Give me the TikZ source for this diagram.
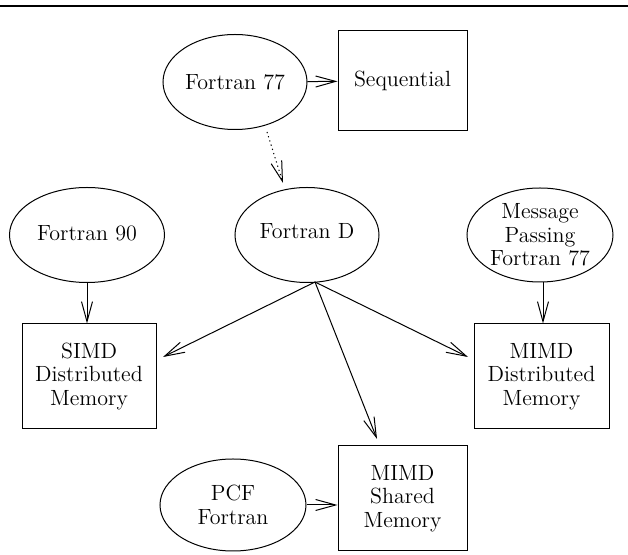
\documentclass[tikz,border=0pt]{standalone}
\usetikzlibrary{arrows.meta,shapes.geometric}
\tikzset{
  ell/.style={draw, ellipse, line width=0.5pt, inner sep=0pt},
  bx/.style={draw, rectangle, line width=0.5pt, inner sep=0pt, align=center,
    font=\fontsize{11}{11.8}\selectfont},
  lbl/.style={align=center, inner sep=0pt, font=\fontsize{11}{11.8}\selectfont},
  arr/.style={-{Straight Barb[length=10pt,width=5.5pt]}, line width=0.5pt},
  dotarr/.style={arr, dash pattern=on 0.6pt off 1.6pt},
}
\begin{document}
\begin{tikzpicture}[x=0.5pt,y=-0.5pt]
\useasboundingbox (0,0) rectangle (628,555);
% top rule
\coordinate (rl) at (0,6);
\coordinate (rr) at (628,6);
\draw[line width=1pt] (rl) -- (rr);

% ellipses
\node[ell, minimum width=72pt, minimum height=47.5pt] (f77) at (235,82) {};
\node[lbl] (f77t) at (f77) {Fortran 77};
\node[ell, minimum width=77.5pt, minimum height=47.5pt] (f90) at (87,235) {};
\node[lbl] (f90t) at ([yshift=1pt]f90) {Fortran 90};
\node[ell, minimum width=72pt, minimum height=47.5pt] (fd) at (307,235) {};
\node[lbl] (fdt) at ([yshift=2pt]fd) {Fortran D};
\node[ell, minimum width=73pt, minimum height=47pt] (mpf) at (540,235) {};
\node[lbl] (mpft) at (mpf) {Message\\Passing\\Fortran 77};
\node[ell, minimum width=73pt, minimum height=46pt] (pcf) at (233,505) {};
\node[lbl] (pcft) at (pcf) {PCF\\Fortran};

% boxes
\node[bx, minimum width=64.5pt, minimum height=50pt] (seq) at (402.5,81) {Sequential};
\node[bx, minimum width=67pt, minimum height=52.5pt] (simd) at (89,376.5) {SIMD\\Distributed\\Memory};
\node[bx, minimum width=67.5pt, minimum height=52.5pt] (mimdd) at (541.5,376.5) {MIMD\\Distributed\\Memory};
\node[bx, minimum width=64.5pt, minimum height=52.5pt] (mimds) at (402.5,498.5) {MIMD\\Shared\\Memory};

% connector end points
\coordinate (dotS) at (267,132);
\coordinate (dotE) at (283,183);
\coordinate (fdb) at (315,282);
\coordinate (tSimd) at (163,357);
\coordinate (tMimdd) at (468,357);
\coordinate (tMimds) at (377,439);

% connectors
\draw[arr] (f77) -- (seq);
\draw[dotarr] (dotS) -- (dotE);
\draw[arr] (f90.south) -- (f90.south |- simd.north);
\draw[arr] (mpf.south -| 543,0) -- (mimdd.north -| 543,0);
\draw[arr] (fdb) -- (tSimd);
\draw[arr] (fdb) -- (tMimdd);
\draw[arr] (fdb) -- (tMimds);
\draw[arr] (pcf.east) -- (pcf.east -| mimds.west);
\end{tikzpicture}
\end{document}
